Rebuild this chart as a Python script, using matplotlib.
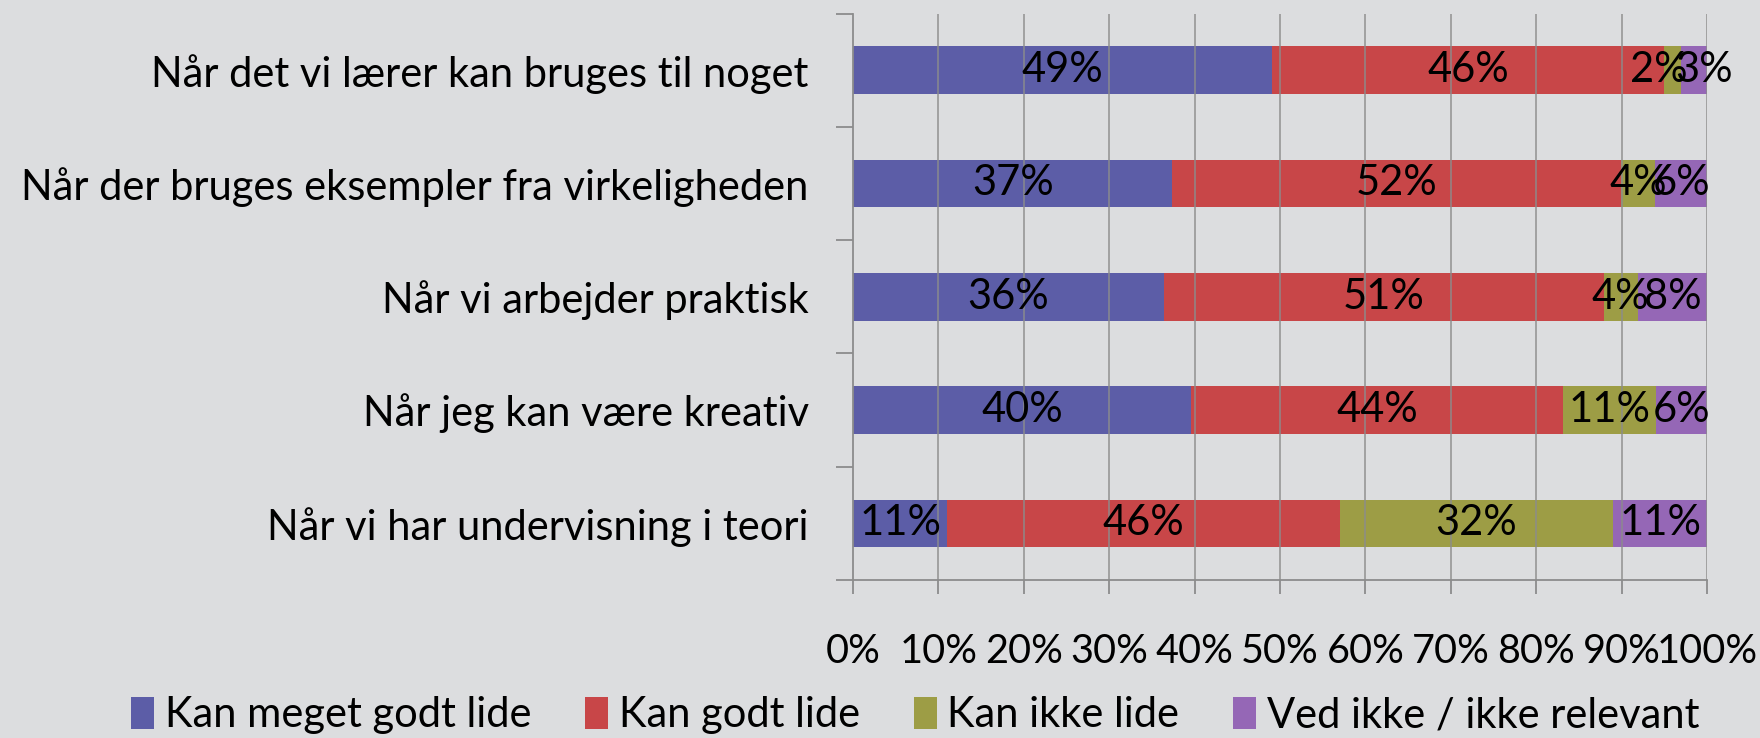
import matplotlib
matplotlib.use("Agg")
import matplotlib.pyplot as plt
import numpy as np

plt.rcParams['font.family'] = ['Lato', 'DejaVu Sans']

categories = [
    "Når det vi lærer kan bruges til noget",
    "Når der bruges eksempler fra virkeligheden",
    "Når vi arbejder praktisk",
    "Når jeg kan være kreativ",
    "Når vi har undervisning i teori",
]
series_names = ["Kan meget godt lide", "Kan godt lide", "Kan ikke lide",
                "Ved ikke / ikke relevant"]
meget_godt = [49, 37, 36, 40, 11]
godt = [46, 52, 51, 44, 46]
ikke = [2, 4, 4, 11, 32]
ved_ikke = [3, 6, 8, 6, 11]
xtick_labels = ["0%", "10%", "20%", "30%", "40%", "50%", "60%", "70%", "80%", "90%", "100%"]

colors = ["#5859A5", "#C84143", "#9B9B40", "#9363B5"]
bg = "#DCDDDF"
fs = 30

values = np.array([meget_godt, godt, ikke, ved_ikke], dtype=float)
shares = values / values.sum(axis=0) * 100  # 100% stacked, like Excel

fig = plt.figure(figsize=(17.6, 7.38), dpi=100, facecolor=bg)
ax = fig.add_axes([0.4847, 0.2141, 0.4852, 0.7676], facecolor=bg)

y = np.arange(len(categories))
left = np.zeros(len(categories))
for i, name in enumerate(series_names):
    ax.barh(y, shares[i], left=left, height=0.42, color=colors[i], alpha=0.97,
            label=name, zorder=2)
    for j in range(len(categories)):
        # very thin neighbouring segments: push labels apart a little
        dx = 0
        if shares[i][j] < 3.5:
            dx = -14 if i == 2 else 10
        ax.annotate(f"{int(values[i][j])}%", (left[j] + shares[i][j] / 2, y[j]),
                    xytext=(dx, 0), textcoords="offset pixels",
                    ha="center", va="center", fontsize=fs, color="black", zorder=4)
    left += shares[i]

ax.set_xlim(0, 100)
ax.set_ylim(len(categories) - 0.5, -0.5)
ax.set_xticks(np.arange(0, 101, 10))
ax.set_xticklabels(xtick_labels, fontsize=28.5)
ax.set_yticks(y)
ax.set_yticklabels(categories, fontsize=fs)
ax.set_yticks(np.arange(-0.5, len(categories), 1), minor=True)

ax.tick_params(axis="y", which="major", length=0, pad=32)
ax.tick_params(axis="y", which="minor", length=12, color="#8C8C8C", width=1.3)
ax.tick_params(axis="x", length=10, color="#8C8C8C", width=1.3, pad=28)

for x in np.arange(10, 101, 10):
    ax.axvline(x, color="#8C8C8C", linewidth=1.3, zorder=3, alpha=0.8)

for s in ["top", "right"]:
    ax.spines[s].set_visible(False)
for s in ["left", "bottom"]:
    ax.spines[s].set_color("#8C8C8C")
    ax.spines[s].set_linewidth(1.3)

fig.legend(loc="center", bbox_to_anchor=(0.52, 0.031), ncol=4, frameon=False,
           fontsize=fs, handlelength=0.55, handleheight=0.8, handletextpad=0.25,
           columnspacing=1.3, borderaxespad=0)

fig.savefig("out.png", dpi=100, facecolor=bg)
